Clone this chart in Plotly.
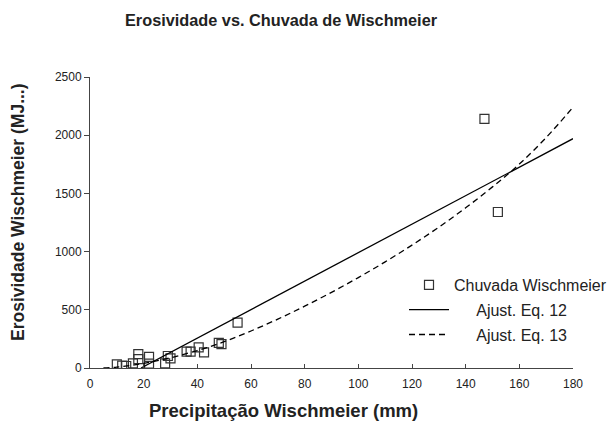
import plotly.graph_objects as go

# Observed data (Precipitação mm, Erosividade)
precip = [10, 12, 13.5, 16, 18, 18, 22, 22, 28, 29, 30, 36, 37.5, 40.5, 42.5, 48, 49, 55, 147, 152]
erosiv = [32, 20, 17, 40, 120, 77, 95, 37, 40, 103, 83, 140, 140, 178, 135, 215, 205, 390, 2140, 1340]

# Fitted line Eq. 12
eq12_x = [19, 180]
eq12_y = [0, 1970]

# Fitted curve Eq. 13
eq13_x = [5, 10, 20, 30, 40, 50, 60, 70, 80, 90, 100, 110, 120, 130, 140, 150, 160, 170, 180]
eq13_y = [0, 8, 40, 88, 150, 226, 318, 420, 531, 650, 777, 912, 1056, 1210, 1376, 1556, 1752, 1980, 2240]

x_ticks = [0, 20, 40, 60, 80, 100, 120, 140, 160, 180]
y_ticks = [0, 500, 1000, 1500, 2000, 2500]

FONT = "Liberation Sans, Arial, sans-serif"
W, H = 614, 423
L, R, T, B = 90, 41, 77, 55

fig = go.Figure()
fig.add_trace(go.Scatter(
    x=precip, y=erosiv, mode="markers", name="Chuvada Wischmeier",
    legendgroup="a",
    marker=dict(symbol="square-open", size=9, color="#333333", line=dict(width=1.2)),
))
fig.add_trace(go.Scatter(
    x=eq12_x, y=eq12_y, mode="lines", name="\u00a0\u00a0\u00a0\u00a0\u00a0Ajust. Eq. 12",
    legendgroup="b",
    line=dict(color="black", width=1.3),
))
fig.add_trace(go.Scatter(
    x=eq13_x, y=eq13_y, mode="lines", name="\u00a0\u00a0\u00a0\u00a0\u00a0Ajust. Eq. 13",
    legendgroup="c", line_shape="spline",
    line=dict(color="black", width=1.3, dash="6px,4px"),
))

fig.update_layout(
    width=W, height=H,
    margin=dict(l=L, r=R, t=T, b=B, autoexpand=False),
    paper_bgcolor="white", plot_bgcolor="white",
    font=dict(family=FONT, color="#222222"),
    showlegend=True,
    legend=dict(
        x=(404 - L) / (W - L - R), y=(H - B - 268) / (H - T - B),
        xanchor="left", yanchor="top",
        bgcolor="rgba(0,0,0,0)", borderwidth=0,
        font=dict(size=16, family=FONT, color="#222222"),
        itemwidth=40, traceorder="grouped", tracegroupgap=1,
    ),
    xaxis=dict(
        range=[0, 180], tickvals=x_ticks, ticktext=[str(v) for v in x_ticks],
        showgrid=False, zeroline=False, showline=True, linecolor="#444444", linewidth=1,
        ticks="inside", ticklen=4, tickcolor="#444444", ticklabelstandoff=5,
        tickfont=dict(size=12, family=FONT, color="#222222"),
    ),
    yaxis=dict(
        range=[0, 2500], tickvals=y_ticks, ticktext=[str(v) for v in y_ticks],
        showgrid=False, zeroline=False, showline=True, linecolor="#444444", linewidth=1,
        ticks="outside", ticklen=5, tickcolor="#444444",
        tickfont=dict(size=12, family=FONT, color="#222222"),
    ),
    annotations=[
        dict(text="<b>Erosividade vs. Chuvada de Wischmeier</b>", xref="paper", yref="paper",
             x=(281 - L) / (W - L - R), y=(H - B - 20) / (H - T - B), xanchor="center", yanchor="middle",
             showarrow=False, font=dict(size=16.3, family=FONT, color="#222222")),
        dict(text="<b>Precipitação Wischmeier (mm)</b>", xref="paper", yref="paper",
             x=(283 - L) / (W - L - R), y=(H - B - 410) / (H - T - B), xanchor="center", yanchor="middle",
             showarrow=False, font=dict(size=18.5, family=FONT, color="#222222")),
        dict(text="<b>Erosividade Wischmeier (MJ...)</b>", xref="paper", yref="paper",
             x=(18 - L) / (W - L - R), y=(H - B - 212) / (H - T - B), xanchor="center", yanchor="middle",
             textangle=-90, showarrow=False, font=dict(size=17.5, family=FONT, color="#222222")),
    ],
)

fig.write_html("out.html")
